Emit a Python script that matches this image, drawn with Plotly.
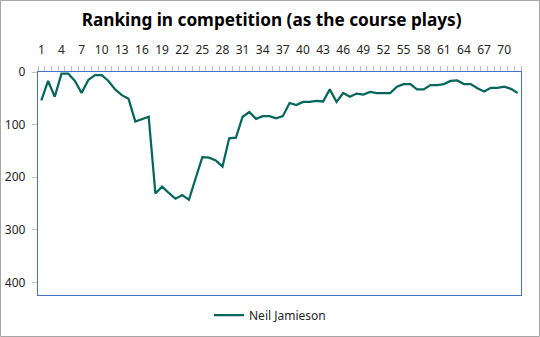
import plotly.graph_objects as go

holes = list(range(1, 73))
rank = [54, 17, 47, 3, 3, 17, 40, 15, 6, 6, 17, 33, 44, 51, 94, 89, 85, 231, 218, 230,
        241, 234, 243, 202, 162, 163, 168, 180, 126, 125, 85, 76, 89, 84, 84, 88, 84, 59, 63, 57,
        57, 55, 56, 33, 57, 40, 47, 41, 43, 38, 40, 40, 40, 28, 23, 23, 33, 33, 25, 25,
        23, 17, 16, 23, 23, 31, 37, 30, 30, 28, 32, 40]
tick_labels = list(range(1, 73, 3))
y_ticks = [0, 100, 200, 300, 400]
series_name = "Neil Jamieson"
title = "Ranking in competition (as the course plays)"

W, H = 540, 337
ml, mr, mt, mb = 38, 19, 72, 42
pw, ph = W - ml - mr, H - mt - mb

fig = go.Figure()
fig.add_trace(go.Scatter(x=holes, y=rank, mode="lines", name=series_name,
                         line=dict(color="#05665E", width=2.25)))

font_main = "Noto Sans, Open Sans, sans-serif"
fig.update_layout(
    width=W, height=H,
    margin=dict(l=ml, r=mr, t=mt, b=mb, autoexpand=False),
    paper_bgcolor="white", plot_bgcolor="white",
    title=dict(text="<b>" + title + "</b>", x=0.503, xref="container", xanchor="center",
               y=1 - 20 / H, yref="container", yanchor="middle",
               font=dict(family=font_main, size=17.2, color="black")),
    showlegend=True,
    legend=dict(orientation="h", x=0.5, xanchor="center", xref="container",
                y=1 - 315 / H, yref="container", yanchor="middle",
                font=dict(family=font_main, size=12, color="#262626"),
                itemwidth=30),
    font=dict(family=font_main, size=12, color="#262626"),
)

fig.update_xaxes(
    side="top", range=[0.5, 72.5], tickvals=tick_labels, ticktext=[str(v) for v in tick_labels],
    ticks="", ticklabelstandoff=12, showgrid=False, zeroline=False, automargin=False,
    showline=True, linecolor="#4472C4", linewidth=1.3, mirror=True,
    tickfont=dict(size=12, color="#262626"),
    minor=dict(tick0=0.5, dtick=1, ticks="outside", ticklen=5, tickcolor="#BFBFBF", tickwidth=1, showgrid=False),
)
fig.update_yaxes(
    range=[424, 0], tickvals=y_ticks, ticks="outside", ticklen=5, tickcolor="#BFBFBF",
    ticklabelstandoff=4, showgrid=False, zeroline=False, automargin=False,
    showline=True, linecolor="#4472C4", linewidth=1.3, mirror=True,
    tickfont=dict(size=12, color="#262626"),
)

# outer chart border
fig.add_shape(type="rect", xref="paper", yref="paper",
              x0=(0.5 - ml) / pw, x1=(W - 0.5 - ml) / pw,
              y0=-(mb - 0.5) / ph, y1=1 + (mt - 0.5) / ph,
              line=dict(color="#A6A6A6", width=1), fillcolor="rgba(0,0,0,0)", layer="below")

fig.write_html("out.html")
